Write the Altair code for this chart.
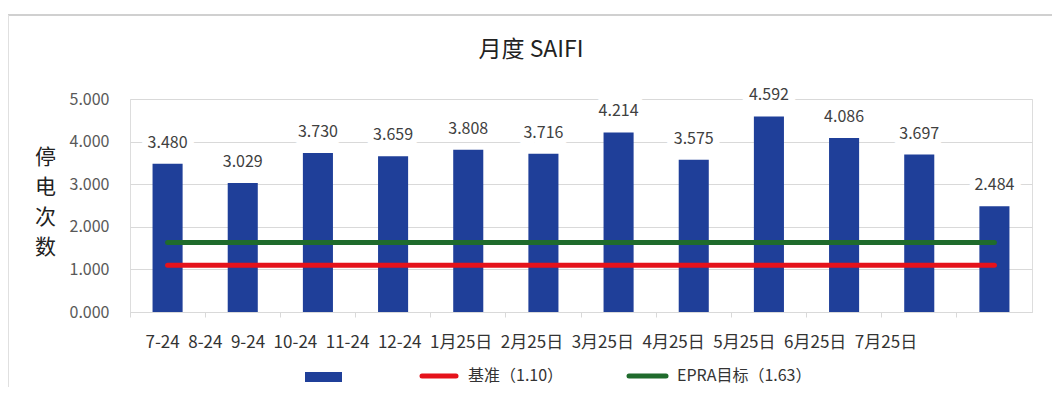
import altair as alt
import pandas as pd

# ---- data ----
tick_labels = ["7-24", "8-24", "9-24", "10-24", "11-24", "12-24",
               "1月25日", "2月25日", "3月25日", "4月25日", "5月25日", "6月25日", "7月25日"]
bar_months = tick_labels[:12]
saifi = [3.480, 3.029, 3.730, 3.659, 3.808, 3.716, 4.214, 3.575, 4.592, 4.086, 3.697, 2.484]
ref_names = ["基准（1.10）", "EPRA目标（1.63）"]
ref_values = [1.10, 1.63]
ref_colors = ["#E5121B", "#1F6B2C"]
y_ticks = [0, 1, 2, 3, 4, 5]
chart_title = "月度 SAIFI"

BLUE = "#1F3F99"
FONT = "Noto Sans CJK SC"
TXT = "#404040"

bars_df = pd.DataFrame({"month": bar_months, "value": saifi})
refs_df = pd.DataFrame({"name": ref_names, "value": ref_values, "color": ref_colors,
                        "start": [bar_months[0]] * 2, "end": [bar_months[-1]] * 2})
title_df = pd.DataFrame({"t": [chart_title]})

x_row = "\u2002".join(tick_labels)

x_scale = alt.Scale(domain=bar_months, paddingInner=0, paddingOuter=0)
x_enc = alt.X("month:N", scale=x_scale,
              axis=alt.Axis(labels=False, ticks=True, bandPosition=0, tickSize=5,
                            tickColor="#d9d9d9", domainColor="#d9d9d9", grid=False,
                            title=x_row, titleFont=FONT, titleFontSize=17,
                            titleFontWeight="normal", titleColor="#333333",
                            titleAlign="left", titleAnchor="start", titleBaseline="middle",
                            titleX=15, titleY=30))
y_enc = alt.Y("value:Q", scale=alt.Scale(domain=[0, 5], nice=False),
              axis=alt.Axis(values=y_ticks, format=".3f", domain=False, ticks=False,
                            labelPadding=21, labelFont=FONT, labelFontSize=16,
                            labelColor="#595959", gridColor="#d9d9d9",
                            title=["停", "电", "次", "数"], titleAngle=0,
                            titleFont=FONT, titleFontSize=21, titleFontWeight="normal",
                            titleColor="#222222", titleLineHeight=30,
                            titleX=-85, titleY=47, titleAlign="center",
                            titleBaseline="top"))

base = alt.Chart(bars_df)
bars = base.mark_bar(color=BLUE, width=alt.RelativeBandSize(0.4)).encode(x=x_enc, y=y_enc)
halo = base.mark_text(font=FONT, fontSize=16, baseline="alphabetic", dy=-16,
                      stroke="white", strokeWidth=14, strokeJoin="round",
                      color="white").encode(
    x=alt.X("month:N", scale=x_scale), y="value:Q",
    text=alt.Text("value:Q", format=".3f"))
labels = base.mark_text(font=FONT, fontSize=16, baseline="alphabetic", dy=-16,
                        color=TXT).encode(
    x=alt.X("month:N", scale=x_scale), y="value:Q",
    text=alt.Text("value:Q", format=".3f"))

rules = alt.Chart(refs_df).mark_rule(strokeWidth=5, strokeCap="round").encode(
    x=alt.X("start:N", scale=x_scale), x2="end:N", y="value:Q",
    color=alt.Color("color:N", scale=None, legend=None))

# ---- title as text ----
title = alt.Chart(title_df).mark_text(font=FONT, fontSize=23, color="#222222",
                                      baseline="alphabetic", align="center").encode(
    x=alt.value(401), y=alt.value(-42), text="t:N")

# ---- manual legend ----
leg_rect = alt.Chart(bars_df.head(1)).mark_rect(color=BLUE).encode(
    x=alt.value(175), x2=alt.value(212), y=alt.value(273), y2=alt.value(283))
leg_red = alt.Chart(refs_df.head(1)).mark_rule(strokeWidth=5, strokeCap="round",
                                               color=ref_colors[0]).encode(
    x=alt.value(292), x2=alt.value(326), y=alt.value(277))
leg_red_t = alt.Chart(refs_df.head(1)).mark_text(font=FONT, fontSize=16, align="left",
                                                 baseline="middle", color="#333333").encode(
    x=alt.value(338), y=alt.value(277), text="name:N")
leg_green = alt.Chart(refs_df.tail(1)).mark_rule(strokeWidth=5, strokeCap="round",
                                                 color=ref_colors[1]).encode(
    x=alt.value(499), x2=alt.value(536), y=alt.value(277))
leg_green_t = alt.Chart(refs_df.tail(1)).mark_text(font=FONT, fontSize=16, align="left",
                                                   baseline="middle", color="#333333").encode(
    x=alt.value(547), y=alt.value(277), text="name:N")

# frame lines around the chart
frame_top = alt.Chart(bars_df.head(1)).mark_rule(color="#d0d0d0", strokeWidth=2).encode(
    x=alt.value(-122), x2=alt.value(925), y=alt.value(-84))
frame_left = alt.Chart(bars_df.head(1)).mark_rule(color="#e0e0e0", strokeWidth=1).encode(
    x=alt.value(-121.5), y=alt.value(-84), y2=alt.value(290))

chart = alt.layer(
    frame_top, frame_left, bars, rules, halo, labels, title,
    leg_rect, leg_red, leg_red_t, leg_green, leg_green_t
).properties(
    width=902, height=213,
    autosize=alt.AutoSizeParams(type="none"),
    padding={"left": 122, "top": 91, "right": 20, "bottom": 75},
).configure_view(stroke=None).configure(background="white")

chart.save("out.html", embed_options={"renderer": "svg", "actions": False})
